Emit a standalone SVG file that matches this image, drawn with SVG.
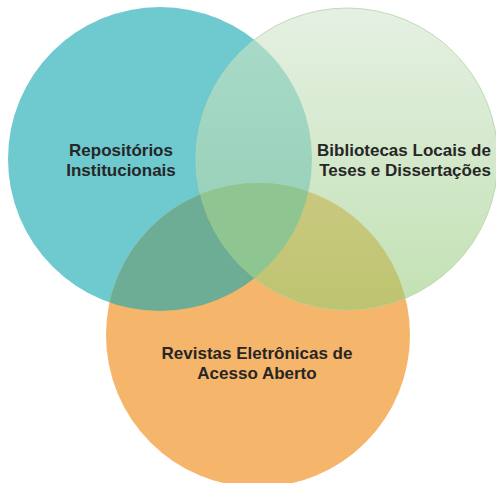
<svg xmlns="http://www.w3.org/2000/svg" width="496" height="483" viewBox="0 0 496 483">
<style>
.lbl{font-family:"Liberation Sans",Arial,sans-serif;font-weight:bold;font-size:17px;fill:#262626;text-anchor:middle}
</style>
<defs>
<linearGradient id="gGreen" x1="0" y1="0" x2="0" y2="1">
<stop offset="0" stop-color="#e5f0e3"/><stop offset="1" stop-color="#c2e1b3"/>
</linearGradient>
<linearGradient id="gTG" gradientUnits="userSpaceOnUse" x1="0" y1="20" x2="0" y2="290">
<stop offset="0" stop-color="#a8dbc9"/><stop offset="1" stop-color="#94cdb4"/>
</linearGradient>
<linearGradient id="gGO" gradientUnits="userSpaceOnUse" x1="0" y1="185" x2="0" y2="311">
<stop offset="0" stop-color="#cac97f"/><stop offset="1" stop-color="#bdc471"/>
</linearGradient>
<clipPath id="cTeal"><circle cx="160" cy="159" r="152"/></clipPath>
<clipPath id="cGreen"><circle cx="347" cy="159" r="151"/></clipPath>
<clipPath id="cOrange"><circle cx="258" cy="335" r="152"/></clipPath>
</defs>
<g id="circle-repositorios"><circle cx="160" cy="159" r="152" fill="#6fcad0"/></g>
<g id="circle-revistas"><circle cx="258" cy="335" r="152" fill="#f5b56a"/></g>
<g id="circle-bibliotecas"><circle cx="347" cy="159" r="151" fill="url(#gGreen)" stroke="#b5d2a8" stroke-width="0.8"/></g>
<g id="overlaps">
<g clip-path="url(#cTeal)"><circle cx="347" cy="159" r="151" fill="url(#gTG)"/></g>
<g clip-path="url(#cTeal)"><circle cx="258" cy="335" r="152" fill="#6dac95"/></g>
<g clip-path="url(#cGreen)"><circle cx="258" cy="335" r="152" fill="url(#gGO)"/></g>
<g clip-path="url(#cTeal)"><g clip-path="url(#cGreen)"><circle cx="258" cy="335" r="152" fill="#8ec590"/></g></g>
</g>
<g id="labels">
<text class="lbl" x="121" y="156">Repositórios</text>
<text class="lbl" x="121" y="176">Institucionais</text>
<text class="lbl" x="404" y="156">Bibliotecas Locais de</text>
<text class="lbl" x="405" y="176">Teses e Dissertações</text>
<text class="lbl" x="257" y="359">Revistas Eletrônicas de</text>
<text class="lbl" x="257" y="379">Acesso Aberto</text>
</g>
</svg>
